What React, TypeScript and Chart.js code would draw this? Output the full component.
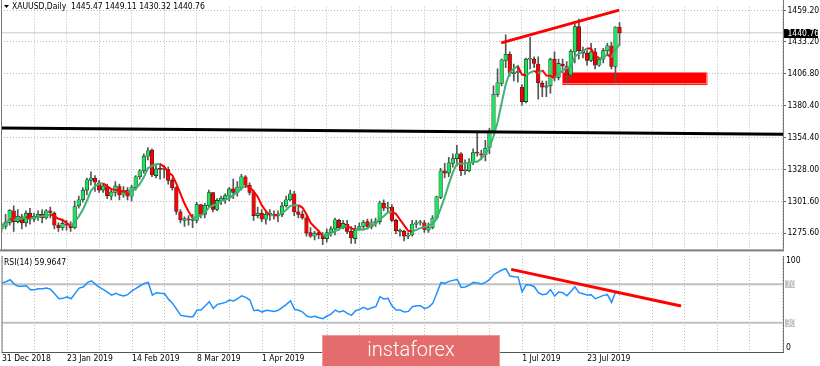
import React, { useEffect, useRef } from "react";
import { Chart, registerables } from "chart.js";

Chart.register(...registerables);

// ---------- texts ----------
const symbolTitle = "XAUUSD,Daily  1445.47 1449.11 1430.32 1440.76";
const rsiTitle = "RSI(14) 59.9647";
const watermarkText = "instaforex";

// ---------- daily candles (31 Dec 2018 .. 2 Aug 2019) ----------
const opens = [
  1279, 1281, 1284, 1294, 1285, 1289, 1284, 1292, 1287, 1289,
  1291, 1288, 1294, 1292, 1282, 1280, 1283, 1282, 1280, 1298,
  1303, 1311, 1319, 1321, 1317, 1311, 1314, 1306, 1309, 1314,
  1307, 1311, 1306, 1313, 1322, 1327, 1339, 1344, 1323, 1329,
  1328, 1328, 1319, 1313, 1293, 1286, 1287, 1286, 1286, 1299,
  1291, 1298, 1309, 1295, 1302, 1304, 1306, 1312, 1309, 1313,
  1322, 1315, 1309, 1290, 1292, 1287, 1291, 1291, 1290, 1291,
  1298, 1303, 1308, 1293, 1291, 1288, 1276, 1273, 1276, 1274,
  1271, 1276, 1279, 1286, 1280, 1283, 1277, 1271, 1279, 1281,
  1285, 1281, 1284, 1285, 1300, 1296, 1297, 1286, 1277, 1277,
  1273, 1274, 1283, 1284, 1284, 1278, 1280, 1288, 1305, 1327,
  1325, 1333, 1337, 1341, 1327, 1327, 1334, 1342, 1341, 1340,
  1346, 1360, 1390, 1399, 1418, 1423, 1407, 1408, 1396, 1384,
  1419, 1419, 1415, 1399, 1396, 1397, 1419, 1404, 1415, 1413,
  1406, 1425, 1446, 1426, 1424, 1418, 1425, 1414, 1419, 1426,
  1430, 1413, 1445.47,
];
const highs = [
  1284, 1291, 1295, 1298, 1295, 1291, 1294, 1296, 1292, 1294,
  1295, 1295, 1297, 1293, 1284, 1287, 1286, 1285, 1302, 1306,
  1313, 1321, 1326, 1323, 1319, 1316, 1316, 1312, 1318, 1316,
  1314, 1313, 1315, 1323, 1328, 1341, 1346, 1345, 1332, 1333,
  1331, 1330, 1321, 1314, 1295, 1289, 1290, 1291, 1301, 1299,
  1300, 1311, 1309, 1304, 1306, 1308, 1313, 1320, 1318, 1324,
  1323, 1317, 1311, 1297, 1295, 1293, 1295, 1294, 1294, 1301,
  1306, 1311, 1310, 1298, 1294, 1290, 1280, 1277, 1278, 1276,
  1279, 1281, 1288, 1287, 1286, 1286, 1281, 1282, 1284, 1286,
  1287, 1287, 1288, 1302, 1303, 1301, 1299, 1287, 1279, 1278,
  1276, 1286, 1286, 1286, 1286, 1284, 1290, 1306, 1329, 1333,
  1338, 1341, 1348, 1342, 1336, 1337, 1345, 1358, 1344, 1352,
  1362, 1397, 1411, 1419, 1439, 1425, 1415, 1414, 1398, 1420,
  1437, 1421, 1421, 1401, 1401, 1420, 1425, 1419, 1419, 1417,
  1427, 1448, 1452, 1429, 1426, 1432, 1428, 1420, 1428, 1432,
  1433, 1446, 1449.11,
];
const lows = [
  1276, 1279, 1282, 1277, 1284, 1279, 1281, 1283, 1285, 1286,
  1284, 1287, 1288, 1279, 1277, 1278, 1278, 1277, 1279, 1296,
  1301, 1307, 1315, 1310, 1309, 1309, 1304, 1303, 1306, 1303,
  1305, 1303, 1302, 1311, 1320, 1325, 1336, 1322, 1321, 1320,
  1321, 1316, 1311, 1291, 1284, 1281, 1282, 1280, 1284, 1288,
  1288, 1297, 1293, 1294, 1299, 1300, 1302, 1304, 1306, 1311,
  1313, 1307, 1286, 1288, 1285, 1283, 1286, 1287, 1285, 1289,
  1297, 1302, 1290, 1288, 1287, 1273, 1272, 1270, 1271, 1266,
  1268, 1273, 1274, 1279, 1279, 1275, 1267, 1267, 1278, 1278,
  1279, 1279, 1281, 1283, 1294, 1293, 1285, 1275, 1273, 1269,
  1271, 1273, 1280, 1282, 1276, 1276, 1279, 1287, 1304, 1321,
  1322, 1330, 1331, 1323, 1324, 1326, 1332, 1339, 1336, 1335,
  1341, 1358, 1388, 1397, 1412, 1405, 1401, 1400, 1381, 1383,
  1411, 1412, 1386, 1388, 1388, 1391, 1401, 1402, 1408, 1400,
  1404, 1416, 1419, 1420, 1414, 1417, 1411, 1413, 1416, 1423,
  1411, 1400, 1430.32,
];
const closes = [
  1282, 1284.5, 1294.5, 1285, 1289.5, 1284, 1292, 1287, 1289.5, 1291,
  1288, 1294, 1292.5, 1282, 1280, 1283.5, 1282, 1280, 1297.5, 1303,
  1311, 1319.5, 1321, 1317.5, 1311, 1314.5, 1306.5, 1309.5, 1314.5, 1307,
  1311, 1306, 1313.5, 1322, 1327, 1339, 1343.5, 1323.5, 1328.5, 1328,
  1328.5, 1319, 1313, 1293.5, 1286.5, 1287.5, 1286.5, 1286, 1299, 1291,
  1298.5, 1309, 1295, 1302.5, 1304.5, 1306.5, 1312, 1309, 1313.5, 1322,
  1315, 1309, 1290, 1292, 1287, 1291, 1291, 1290, 1291, 1298,
  1303, 1308, 1293, 1291, 1288, 1275.5, 1273, 1275.5, 1274, 1271,
  1276, 1279, 1286.5, 1280, 1283.5, 1277, 1271.5, 1279, 1281, 1284.5,
  1281, 1284, 1285.5, 1300.5, 1296, 1297, 1286, 1277.5, 1277, 1273,
  1274, 1283, 1284, 1284, 1278.5, 1280, 1288, 1305.5, 1327, 1325,
  1333.5, 1337, 1341, 1327, 1327.5, 1334, 1342, 1341.5, 1340, 1345.5,
  1360, 1390, 1399.5, 1418.5, 1423, 1407.5, 1408, 1409, 1384, 1419,
  1419.5, 1415.5, 1399.5, 1396, 1397, 1419, 1404, 1415.5, 1413.5, 1406,
  1425.5, 1446, 1426, 1424, 1418, 1425, 1414, 1419, 1426, 1430,
  1413, 1445.5, 1440.76,
];

// ---------- RSI(14) as read from the lower window ----------
const rsiValues = [
  71.3, 72.7, 74.8, 70.3, 67.9, 67.9, 68.5, 64.4, 64.4, 65.4,
  65.4, 66.1, 64.7, 59.9, 55.0, 55.4, 57.1, 55.0, 60.6, 66.1,
  67.2, 71.7, 73.7, 69.9, 66.8, 64.4, 61.6, 58.8, 60.6, 58.8,
  57.8, 59.5, 63.3, 65.8, 68.5, 71.0, 72.0, 58.8, 61.3, 60.6,
  60.2, 54.3, 50.1, 43.9, 37.6, 37.0, 36.3, 36.3, 43.2, 43.2,
  47.4, 51.9, 44.9, 49.1, 50.1, 51.2, 53.6, 52.6, 55.0, 58.1,
  56.4, 53.6, 42.5, 43.2, 41.1, 42.9, 42.5, 41.8, 42.9, 46.0,
  49.1, 52.9, 43.9, 42.9, 41.1, 37.0, 35.6, 36.6, 35.2, 34.2,
  37.0, 39.0, 43.2, 41.1, 42.5, 39.7, 37.6, 42.5, 43.9, 46.0,
  43.9, 45.6, 46.7, 57.1, 54.7, 55.4, 47.4, 43.2, 43.2, 41.1,
  41.8, 46.7, 47.7, 47.7, 44.6, 46.3, 50.1, 60.6, 71.7, 71.0,
  73.1, 74.1, 75.1, 66.8, 67.2, 69.2, 72.0, 71.3, 70.3, 72.0,
  75.1, 80.0, 82.4, 84.9, 86.3, 78.6, 77.9, 77.6, 62.3, 69.6,
  69.2, 67.5, 61.3, 59.2, 59.9, 64.4, 57.8, 62.0, 61.3, 58.1,
  62.6, 67.5, 61.3, 60.2, 58.8, 59.2, 55.0, 56.7, 58.5, 59.2,
  51.2, 62.0, 59.9647,
];

// ---------- axes ----------
const priceTicks = [1275.6, 1301.6, 1328.0, 1354.4, 1380.4, 1406.8, 1433.2, 1459.2];
const rsiLevels = [30, 70];
const rsiScaleMarks = [100, 0];
const dateTickIndex = [0, 16, 32, 48, 64, 80, 96, 112, 128, 144];
const dateTickLabels = [
  "31 Dec 2018", "23 Jan 2019", "14 Feb 2019", "8 Mar 2019", "1 Apr 2019",
  "24 Apr 2019", "16 May 2019", "7 Jun 2019", "1 Jul 2019", "23 Jul 2019",
];
const gridStepBars = 8;

// ---------- drawn objects (bar index, value) ----------
const resistanceLine = [{ x: 122.9, y: 1432.5 }, { x: 151.9, y: 1459.5 }];
const supportLine = [{ x: 0, y: 1362.3 }, { x: 192.2, y: 1357.1 }];
const rsiTrendLine = [{ x: 125.3, y: 85.6 }, { x: 167.1, y: 47.4 }];
const zoneBars = [137.9, 173.6];
const zonePrices = [1397.8, 1408.1];
const maPeriod = 5;

// ---------- view ----------
const X_MIN = -0.123;
const X_MAX = 192.2;
const PRICE_MIN = 1262.09;
const PRICE_MAX = 1462.38;
const RSI_MIN = -0.5;
const RSI_MAX = 99.5;
const AXIS_W = 37;
const FONT = "'Liberation Sans Narrow', 'DejaVu Sans Condensed', 'Liberation Sans', Arial, sans-serif";
const FSIZE = 8.5;
const GRID = "#bcbcbc";
const BULL = "#1ee35f";
const BEAR = "#ff0000";
const MA_UP = "#3cb371";
const MA_DOWN = "#ff0000";

const lastPrice = closes[closes.length - 1];
const movingAverage = closes.map((_, i) => {
  const w = closes.slice(Math.max(0, i - maPeriod + 1), i + 1);
  return w.reduce((a, b) => a + b, 0) / w.length;
});
const gridTicks = Array.from({ length: Math.floor(X_MAX / gridStepBars) + 1 }, (_, k) => k * gridStepBars);

const mainOverlay = {
  id: "mainOverlay",
  beforeDatasetsDraw(chart: any) {
    const { ctx, chartArea, scales } = chart;
    const x0 = scales.x.getPixelForValue(zoneBars[0]);
    const x1 = scales.x.getPixelForValue(zoneBars[1]);
    const y0 = scales.y.getPixelForValue(zonePrices[1]);
    const y1 = scales.y.getPixelForValue(zonePrices[0]);
    ctx.save();
    ctx.beginPath();
    ctx.rect(chartArea.left, chartArea.top, chartArea.right - chartArea.left, chartArea.bottom - chartArea.top);
    ctx.clip();
    ctx.fillStyle = "#ff0000";
    ctx.fillRect(x0, y0, x1 - x0, y1 - y0);
    ctx.strokeStyle = "rgba(255,130,130,0.9)";
    ctx.lineWidth = 1;
    ctx.strokeRect(Math.round(x0) + 0.5, Math.round(y0) + 0.5, Math.round(x1 - x0) - 1, Math.round(y1 - y0) - 1);
    ctx.restore();
  },
  afterDraw(chart: any) {
    const { ctx, chartArea, scales } = chart;
    ctx.save();
    // frame
    ctx.fillStyle = "#777";
    ctx.fillRect(chartArea.left, 0, 1, chartArea.bottom);
    ctx.fillRect(chartArea.right, 0, 1, chartArea.bottom);
    // window separator
    ctx.fillStyle = "#7c7c7c";
    ctx.fillRect(0, chartArea.bottom, chartArea.right + 1, 2);
    // title
    ctx.fillStyle = "#000";
    ctx.beginPath();
    ctx.moveTo(4, 5);
    ctx.lineTo(9, 5);
    ctx.lineTo(6.5, 8);
    ctx.closePath();
    ctx.fill();
    ctx.font = `${FSIZE}px ${FONT}`;
    ctx.textBaseline = "middle";
    ctx.textAlign = "left";
    ctx.fillText(symbolTitle, 12, 6.5);
    // current price box
    const yp = Math.round(scales.y.getPixelForValue(lastPrice));
    ctx.fillStyle = "#000";
    ctx.fillRect(chartArea.right + 1, yp - 4, 34, 9);
    ctx.fillStyle = "#fff";
    ctx.fillText(lastPrice.toFixed(2), chartArea.right + 4.5, yp + 0.5);
    ctx.restore();
  },
};

const rsiOverlay = {
  id: "rsiOverlay",
  afterDraw(chart: any) {
    const { ctx, chartArea, scales } = chart;
    ctx.save();
    ctx.fillStyle = "#777";
    ctx.fillRect(chartArea.left, 0, 1, chartArea.bottom);
    ctx.fillRect(chartArea.right, 0, 1, chartArea.bottom + 1);
    ctx.fillStyle = "#555";
    ctx.fillRect(chartArea.left, chartArea.bottom, chartArea.right - chartArea.left + 1, 1);
    ctx.font = `${FSIZE}px ${FONT}`;
    ctx.textBaseline = "middle";
    ctx.textAlign = "left";
    ctx.fillStyle = "#000";
    ctx.fillText(rsiTitle, 4, 6.5);
    // scale marks 100 / 0
    ctx.fillText(String(rsiScaleMarks[0]), chartArea.right + 3, chartArea.top + 5);
    ctx.fillText(String(rsiScaleMarks[1]), chartArea.right + 3, chartArea.bottom - 4.5);
    // level boxes
    rsiLevels.forEach((lv) => {
      const y = Math.round(scales.y.getPixelForValue(lv));
      ctx.fillStyle = "#c4c4c4";
      ctx.fillRect(chartArea.right + 2, y - 4, 10, 8);
      ctx.fillStyle = "#f4f4f4";
      ctx.fillText(String(lv), chartArea.right + 3, y + 0.5);
    });
    // watermark
    const wx = 322, wy = 79, ww = 178, wh = 31;
    ctx.fillStyle = "#e46c6c";
    ctx.fillRect(wx, wy, ww, wh);
    ctx.strokeStyle = "rgba(240,160,160,0.9)";
    ctx.lineWidth = 1;
    ctx.strokeRect(wx + 0.5, wy + 0.5, ww - 1, wh);
    ctx.fillStyle = "#ffffff";
    ctx.font = "300 20px Roboto, 'Open Sans', sans-serif";
    ctx.textAlign = "center";
    ctx.textBaseline = "alphabetic";
    ctx.fillText(watermarkText, wx + ww / 2, 100);
    ctx.restore();
  },
};

export default function App() {
  const mainRef = useRef<HTMLCanvasElement | null>(null);
  const rsiRef = useRef<HTMLCanvasElement | null>(null);

  useEffect(() => {
    const font = { family: FONT, size: FSIZE };
    const xCommon = {
      type: "linear" as const,
      min: X_MIN,
      max: X_MAX,
      offset: false,
      afterBuildTicks: (s: any) => {
        s.ticks = gridTicks.map((v) => ({ value: v }));
      },
      grid: { color: GRID, lineWidth: 1, drawTicks: false, offset: false },
      border: { display: false, dash: [1, 2] },
    };

    const main = new Chart(mainRef.current as HTMLCanvasElement, {
      type: "bar",
      data: {
        datasets: [
          {
            type: "line",
            data: resistanceLine,
            borderColor: "#ff0000",
            borderWidth: 3,
            pointRadius: 0,
            order: 1,
          },
          {
            type: "line",
            data: supportLine,
            borderColor: "#000000",
            borderWidth: 3,
            pointRadius: 0,
            order: 1,
          },
          {
            type: "line",
            data: movingAverage.map((v, i) => ({ x: i, y: v })),
            borderWidth: 2,
            borderColor: MA_UP,
            pointRadius: 0,
            tension: 0,
            segment: {
              borderColor: (c: any) => (c.p1.parsed.y >= c.p0.parsed.y ? MA_UP : MA_DOWN),
            },
            order: 3,
          },
          {
            type: "bar",
            data: opens.map((o, i) => ({ x: i, y: [o, closes[i]] })),
            backgroundColor: opens.map((o, i) => (closes[i] >= o ? BULL : BEAR)),
            borderColor: "#202020",
            borderWidth: 0.6,
            borderSkipped: false,
            barThickness: 3.6,
            minBarLength: 1,
            grouped: false,
            order: 4,
          },
          {
            type: "bar",
            data: lows.map((l, i) => ({ x: i, y: [l, highs[i]] })),
            backgroundColor: "#555555",
            barThickness: 1,
            grouped: false,
            order: 5,
          },
          {
            type: "line",
            data: [{ x: X_MIN, y: lastPrice }, { x: X_MAX, y: lastPrice }],
            borderColor: "#c8c8c8",
            borderWidth: 1,
            pointRadius: 0,
            order: 6,
          },
        ] as any,
      },
      options: {
        animation: false,
        responsive: false,
        devicePixelRatio: 1,
        events: [],
        layout: { padding: { left: 1, top: 1, right: 0, bottom: 3 }, autoPadding: false } as any,
        plugins: { legend: { display: false }, tooltip: { enabled: false } },
        scales: {
          x: {
            ...xCommon,
            ticks: { display: false },
            afterFit: (s: any) => {
              s.height = 0;
            },
          },
          y: {
            type: "linear",
            position: "right",
            min: PRICE_MIN,
            max: PRICE_MAX,
            beginAtZero: false,
            afterBuildTicks: (s: any) => {
              s.ticks = priceTicks.map((v) => ({ value: v }));
            },
            afterFit: (s: any) => {
              s.width = AXIS_W;
            },
            ticks: {
              callback: (v: any) => Number(v).toFixed(2),
              color: "#000",
              font,
              padding: 1.5,
            },
            grid: { color: GRID, tickLength: 3, tickColor: "#666", tickBorderDash: [0, 0] } as any,
            border: { display: false, dash: [1, 2] },
          },
        },
      } as any,
      plugins: [mainOverlay],
    });

    const rsi = new Chart(rsiRef.current as HTMLCanvasElement, {
      type: "line",
      data: {
        datasets: [
          {
            data: rsiTrendLine,
            borderColor: "#ff0000",
            borderWidth: 3,
            pointRadius: 0,
            order: 1,
          },
          {
            data: rsiValues.map((v, i) => ({ x: i, y: v })),
            borderColor: "#1e90ff",
            borderWidth: 1.5,
            pointRadius: 0,
            tension: 0,
            order: 2,
          },
          ...rsiLevels.map((lv) => ({
            data: [{ x: X_MIN, y: lv }, { x: X_MAX, y: lv }],
            borderColor: "#c0c0c0",
            borderWidth: 2,
            pointRadius: 0,
            order: 3,
          })),
        ] as any,
      },
      options: {
        animation: false,
        responsive: false,
        devicePixelRatio: 1,
        events: [],
        layout: { padding: { left: 1, top: 0, right: 0, bottom: 0 }, autoPadding: false } as any,
        plugins: { legend: { display: false }, tooltip: { enabled: false } },
        scales: {
          x: {
            ...xCommon,
            ticks: {
              autoSkip: false,
              maxRotation: 0,
              align: "start",
              padding: 2,
              color: "#000",
              font,
              callback: (v: any) => {
                const j = dateTickIndex.indexOf(Number(v));
                return j >= 0 ? dateTickLabels[j] : "";
              },
            },
            afterFit: (s: any) => {
              s.height = 14;
            },
          },
          y: {
            type: "linear",
            position: "right",
            min: RSI_MIN,
            max: RSI_MAX,
            afterFit: (s: any) => {
              s.width = AXIS_W;
            },
            ticks: { display: false },
            grid: { display: false },
            border: { display: false },
          },
        },
      } as any,
      plugins: [rsiOverlay],
    });

    return () => {
      main.destroy();
      rsi.destroy();
    };
  }, []);

  return (
    <div style={{ position: "absolute", left: 0, top: 0, width: 820, height: 366, background: "#fff", overflow: "hidden" }}>
      <canvas ref={mainRef} width={820} height={256} style={{ position: "absolute", left: 0, top: 0, display: "block" }} />
      <canvas ref={rsiRef} width={820} height={110} style={{ position: "absolute", left: 0, top: 256, display: "block" }} />
    </div>
  );
}
